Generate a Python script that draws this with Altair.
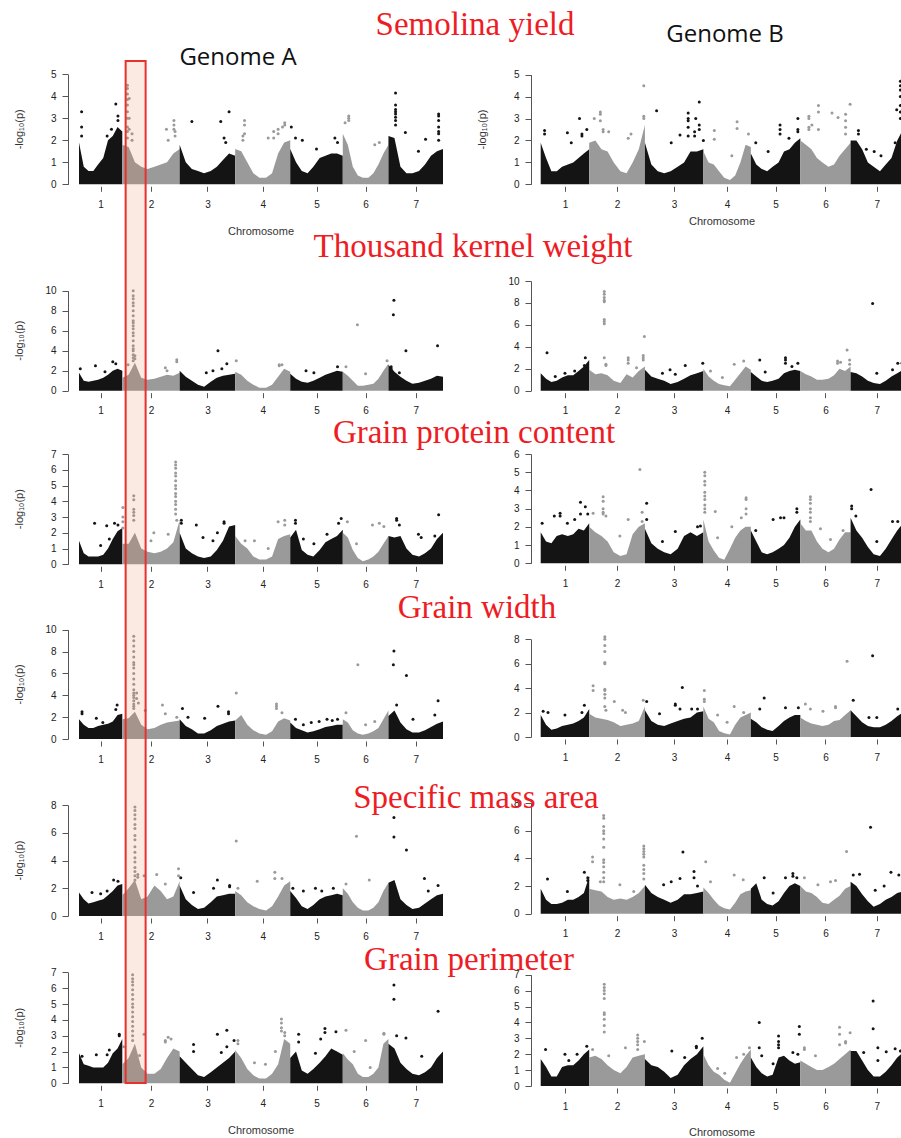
import altair as alt
import pandas as pd

W, H = 901, 1138

CHROMS = [1, 2, 3, 4, 5, 6, 7]
LEN_A = [585, 775, 750, 744, 710, 617, 737]   # chromosome lengths (Mb), genome A
LEN_B = [689, 791, 830, 674, 703, 714, 744]   # chromosome lengths (Mb), genome B
FRAC = [0.0, 0.11, 0.22, 0.33, 0.44, 0.56, 0.67, 0.78, 0.89, 1.0]  # sampling positions along each chromosome

TRAITS = ["Semolina yield", "Thousand kernel weight", "Grain protein content",
          "Grain width", "Specific mass area", "Grain perimeter"]
HIGHLIGHT = {"chrom": 2, "start": 45, "end": 315}   # highlighted region on chr 2A (Mb)

# ---------- upper edge of the dense SNP cloud, per chromosome ----------
ENV_SY_A = [[1.9, 0.8, 0.6, 0.6, 0.9, 1.2, 2.0, 2.2, 2.6, 2.4],
            [1.8, 1.7, 1.0, 0.8, 0.7, 0.8, 0.9, 1.0, 1.4, 1.6],
            [1.8, 1.0, 0.7, 0.6, 0.5, 0.6, 0.8, 1.1, 1.4, 1.3],
            [1.6, 1.5, 1.0, 0.5, 0.3, 0.3, 0.5, 1.4, 1.9, 2.0],
            [1.6, 1.0, 0.6, 0.5, 0.8, 1.2, 1.3, 1.4, 1.4, 1.3],
            [2.3, 1.8, 0.8, 0.4, 0.3, 0.3, 0.5, 0.9, 1.4, 1.8],
            [2.2, 2.1, 0.8, 0.5, 0.5, 0.6, 0.9, 1.3, 1.5, 1.6]]
ENV_SY_B = [[1.9, 1.2, 0.6, 0.6, 0.8, 0.9, 1.0, 1.2, 1.4, 1.6],
            [1.9, 2.0, 1.6, 1.5, 1.0, 0.6, 0.5, 1.0, 1.6, 2.7],
            [1.9, 0.9, 0.6, 0.5, 0.6, 0.8, 1.0, 1.5, 1.5, 1.6],
            [1.5, 1.0, 0.9, 0.6, 0.3, 0.2, 0.4, 1.0, 1.8, 1.7],
            [1.4, 0.9, 0.7, 0.6, 0.8, 1.0, 1.5, 1.6, 1.9, 2.1],
            [2.0, 1.8, 1.6, 1.2, 1.0, 0.8, 0.9, 1.3, 1.6, 1.9],
            [2.0, 2.0, 1.6, 1.0, 0.8, 0.6, 0.9, 1.2, 2.0, 2.5]]
ENV_TKW_A = [[1.8, 1.0, 0.9, 1.0, 1.1, 1.3, 1.6, 2.0, 2.2, 2.0],
             [1.3, 1.6, 2.8, 1.3, 1.1, 1.2, 1.4, 1.6, 1.5, 1.8],
             [2.0, 1.4, 1.0, 0.6, 0.4, 0.9, 1.3, 1.5, 1.6, 1.7],
             [1.9, 1.6, 1.0, 0.6, 0.3, 0.3, 0.6, 1.4, 2.2, 1.9],
             [1.7, 1.2, 0.9, 0.8, 1.0, 1.3, 1.6, 1.8, 2.0, 1.9],
             [1.9, 1.5, 1.0, 0.5, 0.5, 0.6, 0.7, 1.2, 2.0, 2.7],
             [2.6, 1.9, 1.4, 1.0, 0.7, 0.8, 1.0, 1.2, 1.5, 1.4]]
ENV_TKW_B = [[1.6, 1.1, 0.8, 0.9, 1.2, 1.4, 1.4, 1.8, 2.2, 2.8],
             [1.9, 1.5, 1.6, 1.4, 0.9, 0.7, 1.5, 1.2, 1.8, 2.2],
             [1.9, 1.3, 1.1, 0.9, 0.6, 0.8, 1.1, 1.4, 1.6, 1.8],
             [2.0, 1.3, 0.9, 0.6, 0.5, 0.4, 1.0, 1.6, 2.2, 1.9],
             [1.7, 1.3, 0.9, 0.8, 0.9, 1.1, 1.6, 1.8, 1.9, 1.8],
             [1.8, 1.5, 1.3, 1.0, 1.0, 1.1, 1.4, 2.0, 1.8, 2.2],
             [1.7, 1.6, 1.3, 0.9, 0.7, 0.6, 0.9, 1.3, 1.6, 1.9]]
ENV_GPC_A = [[1.5, 0.7, 0.5, 0.5, 0.5, 0.6, 1.0, 1.6, 2.1, 2.3],
             [1.3, 1.3, 2.0, 1.0, 0.8, 0.7, 0.8, 1.0, 1.4, 2.8],
             [2.0, 1.0, 0.7, 0.5, 0.4, 0.5, 0.9, 1.5, 2.4, 2.5],
             [1.8, 1.3, 1.0, 0.5, 0.3, 0.3, 0.5, 1.6, 1.8, 1.9],
             [1.7, 2.2, 0.9, 0.6, 0.5, 0.9, 1.4, 1.6, 1.8, 2.2],
             [2.0, 1.7, 0.9, 0.4, 0.2, 0.3, 0.5, 0.8, 1.3, 1.8],
             [1.8, 1.7, 1.8, 1.0, 0.6, 0.5, 0.7, 1.0, 1.6, 2.0]]
ENV_GPC_B = [[1.7, 1.2, 1.1, 1.5, 1.6, 1.5, 1.6, 1.9, 1.8, 2.2],
             [2.0, 1.7, 1.5, 1.2, 0.6, 0.4, 0.5, 1.6, 2.0, 2.2],
             [1.9, 1.1, 0.8, 0.6, 0.5, 0.8, 1.5, 1.7, 1.5, 1.7],
             [2.4, 1.2, 0.7, 0.3, 0.2, 0.8, 1.4, 1.8, 2.0, 2.0],
             [1.8, 1.2, 0.6, 0.5, 0.6, 0.8, 1.0, 1.4, 2.0, 2.4],
             [2.2, 1.8, 1.8, 1.2, 0.8, 0.6, 0.8, 1.3, 1.7, 1.7],
             [2.5, 1.8, 1.4, 0.9, 0.5, 0.4, 0.8, 1.3, 1.8, 2.2]]
ENV_GW_A = [[1.8, 1.3, 1.0, 1.0, 1.2, 1.3, 1.4, 1.6, 2.2, 2.3],
            [1.8, 1.9, 2.5, 1.3, 0.9, 1.0, 1.3, 1.5, 1.6, 1.7],
            [1.8, 1.2, 0.9, 0.5, 0.5, 0.8, 1.2, 1.4, 1.6, 1.7],
            [1.7, 2.2, 1.3, 0.8, 0.5, 0.4, 0.7, 1.6, 1.9, 1.7],
            [1.5, 1.0, 0.8, 0.6, 0.7, 0.9, 1.1, 1.2, 1.3, 1.3],
            [1.8, 1.5, 0.8, 0.5, 0.4, 0.5, 0.7, 1.0, 1.8, 2.6],
            [2.1, 2.6, 1.5, 0.9, 0.6, 0.6, 0.8, 1.1, 1.4, 1.6]]
ENV_GW_B = [[1.8, 1.0, 0.6, 0.7, 0.9, 1.0, 1.1, 1.3, 1.6, 2.3],
            [1.9, 1.6, 1.5, 1.4, 1.2, 0.9, 1.0, 1.1, 1.3, 2.5],
            [2.2, 1.3, 1.0, 0.9, 1.1, 1.3, 1.5, 1.6, 2.0, 2.1],
            [2.5, 1.5, 1.2, 0.5, 0.3, 0.2, 1.0, 1.6, 1.8, 2.0],
            [1.5, 1.2, 0.8, 0.6, 0.5, 0.9, 1.3, 1.6, 1.8, 1.8],
            [1.6, 1.3, 1.1, 1.0, 0.9, 1.0, 1.3, 1.4, 1.8, 2.2],
            [2.2, 1.7, 1.2, 0.9, 0.8, 0.8, 1.0, 1.3, 1.7, 2.0]]
ENV_SMA_A = [[1.7, 1.2, 0.9, 1.0, 1.1, 1.2, 1.5, 1.8, 2.2, 2.3],
             [1.5, 2.0, 2.6, 1.2, 1.4, 2.2, 1.8, 1.2, 1.4, 2.5],
             [2.2, 1.2, 0.8, 0.5, 0.6, 1.0, 1.4, 1.5, 1.6, 1.6],
             [1.8, 1.5, 1.0, 0.7, 0.5, 0.4, 0.7, 1.4, 2.2, 2.5],
             [1.8, 1.3, 0.7, 0.5, 0.8, 1.2, 1.4, 1.5, 1.6, 1.5],
             [2.0, 1.6, 1.0, 0.6, 0.4, 0.4, 0.6, 1.0, 1.8, 2.4],
             [2.4, 2.6, 1.2, 0.8, 0.5, 0.6, 0.9, 1.2, 1.5, 1.6]]
ENV_SMA_B = [[1.8, 1.0, 0.7, 0.7, 0.8, 1.0, 1.0, 1.2, 1.5, 2.7],
             [1.8, 1.7, 1.6, 1.2, 1.0, 1.1, 1.0, 1.2, 1.5, 2.0],
             [2.1, 1.5, 1.2, 1.0, 0.8, 1.0, 1.4, 1.4, 1.5, 1.6],
             [1.9, 1.5, 1.0, 0.6, 0.4, 0.3, 0.8, 1.4, 1.6, 1.7],
             [1.8, 2.2, 1.0, 0.7, 0.6, 0.9, 1.5, 2.0, 2.2, 2.0],
             [2.0, 1.6, 1.5, 1.2, 0.8, 0.7, 1.0, 1.3, 1.8, 2.0],
             [2.3, 2.0, 1.4, 0.9, 0.5, 0.7, 1.0, 1.2, 1.5, 1.6]]
ENV_GP_A = [[1.9, 1.2, 1.1, 1.0, 1.0, 1.0, 1.3, 1.9, 2.2, 2.8],
            [1.2, 1.6, 2.5, 1.0, 0.6, 0.6, 0.9, 1.6, 2.2, 2.0],
            [1.7, 1.3, 0.9, 0.5, 0.4, 0.7, 1.0, 1.3, 1.6, 2.0],
            [2.1, 1.6, 0.9, 0.5, 0.3, 0.3, 0.6, 1.2, 2.8, 2.5],
            [1.6, 2.0, 0.8, 0.6, 0.9, 1.3, 1.7, 2.2, 2.0, 1.8],
            [1.9, 1.5, 1.2, 0.6, 0.4, 0.4, 0.6, 1.0, 2.5, 2.8],
            [2.5, 2.2, 1.3, 0.9, 0.6, 0.5, 0.7, 1.0, 1.6, 2.0]]
ENV_GP_B = [[1.7, 1.2, 0.6, 0.6, 1.2, 1.3, 1.3, 1.6, 2.0, 2.3],
            [1.8, 1.9, 1.7, 1.3, 1.0, 0.8, 1.2, 1.8, 1.9, 2.0],
            [1.7, 1.3, 1.2, 0.9, 0.5, 0.7, 1.3, 1.7, 2.0, 2.5],
            [2.0, 1.3, 0.9, 0.7, 0.4, 0.2, 0.8, 1.4, 1.9, 2.3],
            [1.8, 1.2, 0.8, 0.6, 0.7, 1.8, 1.9, 1.6, 1.4, 1.5],
            [1.6, 1.4, 1.2, 1.0, 1.0, 1.2, 1.4, 1.7, 2.0, 2.3],
            [2.2, 2.2, 1.6, 1.0, 0.6, 0.6, 0.9, 1.3, 1.8, 2.1]]

# ---------- individual SNPs above the cloud: (chromosome, fraction along it, -log10 p values) ----------
PTS_SY_A = [(1, 0.06, [3.3, 2.6, 2.2]), (1, 0.65, [2.2]), (1, 0.75, [2.5]), (1, 0.85, [3.65]), (1, 0.9, [3.1, 2.9]),
            (2, 0.09, [4.5, 4.35, 4.1, 3.85, 3.6, 3.3, 3.0, 2.6, 2.4, 2.1]), (2, 0.12, [3.9, 3.0, 2.5]),
            (2, 0.17, [2.3, 2.0]), (2, 0.77, [2.5]), (2, 0.8, [2.0]), (2, 0.9, [2.9, 2.7, 2.5]), (2, 0.92, [2.4, 2.2]),
            (3, 0.22, [2.85]), (3, 0.74, [2.85]), (3, 0.8, [2.1]), (3, 0.83, [1.9]), (3, 0.89, [3.3]),
            (4, 0.14, [2.2, 2.0]), (4, 0.17, [2.9, 2.7, 2.3]), (4, 0.6, [2.1]), (4, 0.7, [2.4, 2.1]),
            (4, 0.78, [2.5, 2.3]), (4, 0.86, [2.6]), (4, 0.9, [2.8, 2.7]),
            (5, 0.02, [2.6]), (5, 0.1, [2.1]), (5, 0.23, [2.0]), (5, 0.5, [1.6]), (5, 0.85, [2.1]), (5, 0.9, [1.9]),
            (6, 0.05, [2.8]), (6, 0.13, [3.1, 3.0, 2.9]), (6, 0.7, [1.8]), (6, 0.8, [1.9]),
            (7, 0.13, [4.15, 3.6, 3.4, 3.3, 3.2, 3.05, 2.9, 2.7]), (7, 0.31, [2.35]), (7, 0.55, [1.5]),
            (7, 0.68, [2.05]), (7, 0.92, [3.2, 3.1, 2.9, 2.6, 2.4, 2.3, 2.0])]
PTS_SY_B = [(1, 0.08, [2.45, 2.3]), (1, 0.55, [2.35]), (1, 0.63, [1.9]), (1, 0.8, [3.0]), (1, 0.85, [2.3, 2.2]), (1, 0.95, [2.5]),
            (2, 0.09, [3.0]), (2, 0.2, [3.3, 3.2, 2.9]), (2, 0.25, [2.5, 2.4]), (2, 0.35, [2.4]), (2, 0.7, [2.1]),
            (2, 0.75, [2.3]), (2, 0.98, [4.5, 3.1, 3.0]),
            (3, 0.2, [3.35]), (3, 0.45, [1.9]), (3, 0.6, [2.25]), (3, 0.74, [3.25, 3.0, 2.9, 2.6, 2.2]),
            (3, 0.85, [2.4, 2.2]), (3, 0.87, [3.0]), (3, 0.93, [3.75, 2.7, 2.5]), (3, 1.0, [2.0]),
            (4, 0.23, [2.45, 2.05]), (4, 0.6, [1.3]), (4, 0.71, [2.85, 2.55]), (4, 0.95, [2.3]),
            (5, 0.1, [1.9]), (5, 0.35, [1.5]), (5, 0.59, [2.7, 2.5, 2.3]), (5, 0.77, [2.1]), (5, 0.95, [3.0, 2.5, 2.4]),
            (6, 0.17, [3.1, 3.0, 2.6, 2.5]), (6, 0.23, [2.7]), (6, 0.36, [3.6, 3.3, 2.5]), (6, 0.63, [3.25]),
            (6, 0.75, [3.05]), (6, 0.9, [3.2, 2.9, 2.6, 2.3]), (6, 0.99, [3.65]),
            (7, 0.15, [2.45, 2.3]), (7, 0.3, [1.6]), (7, 0.45, [1.5]), (7, 0.58, [1.3]), (7, 0.85, [1.9]),
            (7, 0.88, [3.4]), (7, 0.95, [4.7, 4.5, 4.3, 4.0, 3.6, 3.3, 3.0])]
PTS_TKW_A = [(1, 0.03, [2.2]), (1, 0.38, [2.5]), (1, 0.6, [1.9]), (1, 0.78, [2.9]), (1, 0.85, [2.7]),
             (2, 0.1, [2.6]), (2, 0.19, [10.0, 9.5, 9.2, 8.8, 8.5, 8.0, 7.5, 7.0, 6.8, 6.5, 6.2, 5.8, 5.5, 5.0,
                                        4.5, 4.2, 4.0, 3.6, 3.3, 3.0]),
             (2, 0.22, [3.5, 3.2]), (2, 0.75, [2.3]), (2, 0.78, [2.0]), (2, 0.95, [3.1, 2.9]),
             (3, 0.48, [1.8]), (3, 0.6, [2.0]), (3, 0.69, [4.0]), (3, 0.76, [2.2]), (3, 0.85, [2.7]),
             (4, 0.02, [3.0]), (4, 0.8, [2.6, 2.5]), (4, 0.85, [2.6]),
             (5, 0.3, [2.0]), (5, 0.45, [1.8]), (5, 0.9, [2.4]),
             (6, 0.07, [2.4]), (6, 0.32, [6.6]), (6, 0.5, [1.7]), (6, 0.97, [3.0]),
             (7, 0.05, [2.4, 2.2]), (7, 0.09, [7.6]), (7, 0.1, [9.05]), (7, 0.2, [1.8]), (7, 0.32, [4.0]), (7, 0.9, [4.5])]
PTS_TKW_B = [(1, 0.13, [3.45]), (1, 0.3, [1.3]), (1, 0.5, [1.6]), (1, 0.7, [1.8]), (1, 0.9, [2.3]), (1, 0.92, [3.0]),
             (2, 0.27, [9.05, 8.8, 8.5, 8.25, 8.1, 6.5, 6.3, 6.1, 3.0]), (2, 0.3, [2.4, 2.3]),
             (2, 0.7, [3.0, 2.8, 2.5]), (2, 0.85, [2.1]), (2, 0.97, [3.2, 3.0, 2.8]), (2, 0.99, [4.95]),
             (3, 0.3, [1.6]), (3, 0.43, [1.9]), (3, 0.52, [1.5]), (3, 0.69, [2.3]), (3, 0.99, [2.5]),
             (4, 0.15, [1.8]), (4, 0.4, [1.2]), (4, 0.65, [2.4]), (4, 0.85, [2.7]),
             (5, 0.18, [2.8]), (5, 0.29, [1.7]), (5, 0.7, [3.0, 2.8, 2.5]), (5, 0.83, [2.2]), (5, 0.95, [2.5]),
             (6, 0.74, [2.7, 2.5]), (6, 0.8, [2.6]), (6, 0.93, [3.7]), (6, 0.98, [2.8, 2.4]),
             (7, 0.42, [7.95]), (7, 0.5, [1.6]), (7, 0.8, [1.9]), (7, 0.9, [2.5]), (7, 0.98, [2.5])]
PTS_GPC_A = [(1, 0.36, [2.6]), (1, 0.5, [1.2]), (1, 0.64, [2.45]), (1, 0.7, [1.6]), (1, 0.82, [2.6]), (1, 0.9, [2.5]),
             (2, 0.01, [3.6, 3.0, 2.7, 2.3]), (2, 0.2, [4.35, 4.1, 3.5, 3.3, 3.1, 2.8]), (2, 0.5, [1.5]),
             (2, 0.55, [2.0]), (2, 0.8, [1.9]),
             (2, 0.93, [6.5, 6.3, 6.1, 5.8, 5.6, 5.3, 5.0, 4.8, 4.5, 4.3, 4.0, 3.8, 3.5, 3.2]), (2, 0.95, [2.8]),
             (3, 0.03, [2.8, 2.6]), (3, 0.3, [2.5]), (3, 0.42, [1.7]), (3, 0.6, [1.5]), (3, 0.68, [2.0]), (3, 0.8, [2.7, 2.6]),
             (4, 0.18, [1.5]), (4, 0.35, [1.5]), (4, 0.6, [1.0]), (4, 0.78, [2.7]), (4, 0.9, [2.8, 2.5]),
             (5, 0.1, [2.8, 2.6]), (5, 0.25, [1.6]), (5, 0.45, [1.3]), (5, 0.7, [1.9]), (5, 0.92, [2.6]), (5, 0.97, [2.9]),
             (6, 0.1, [2.7]), (6, 0.3, [1.3]), (6, 0.65, [2.5]), (6, 0.8, [2.6]), (6, 0.9, [2.4]),
             (7, 0.15, [2.9, 2.8]), (7, 0.2, [2.5]), (7, 0.55, [1.9]), (7, 0.6, [1.7]), (7, 0.85, [1.8]), (7, 0.92, [3.15])]
PTS_GPC_B = [(1, 0.03, [2.2]), (1, 0.28, [2.6]), (1, 0.4, [2.75, 2.6]), (1, 0.55, [2.2]), (1, 0.7, [2.4]),
             (1, 0.82, [3.35, 2.7]), (1, 0.92, [3.1]), (1, 0.97, [2.7]),
             (2, 0.07, [2.75]), (2, 0.25, [3.65, 3.4, 3.0, 2.8, 2.7]), (2, 0.3, [2.6]), (2, 0.55, [1.5]),
             (2, 0.7, [2.4]), (2, 0.91, [5.15]), (2, 0.95, [2.8, 2.3]),
             (3, 0.03, [3.3, 2.4]), (3, 0.3, [1.2]), (3, 0.52, [1.75]), (3, 0.9, [2.0]), (3, 0.95, [2.05]),
             (4, 0.03, [5.0, 4.8, 4.5, 4.3, 3.9, 3.7, 3.5, 3.2, 3.0, 2.8]), (4, 0.25, [2.85]), (4, 0.3, [1.4]),
             (4, 0.6, [2.0]), (4, 0.8, [2.5]), (4, 0.9, [3.6, 3.5, 3.0, 2.7]),
             (5, 0.1, [1.8]), (5, 0.45, [2.4]), (5, 0.6, [2.5]), (5, 0.67, [2.5]), (5, 0.93, [3.0, 2.8]),
             (6, 0.2, [3.65, 3.5, 3.3, 3.0, 2.8, 2.5, 2.3]), (6, 0.4, [1.9]), (6, 0.6, [1.3]), (6, 0.85, [1.8]),
             (7, 0.02, [3.15, 3.0]), (7, 0.1, [2.6]), (7, 0.39, [4.05]), (7, 0.5, [1.2]), (7, 0.8, [2.3]), (7, 0.9, [2.3])]
PTS_GW_A = [(1, 0.07, [2.5, 2.3]), (1, 0.4, [1.9]), (1, 0.55, [1.5]), (1, 0.85, [2.7]), (1, 0.88, [3.1]),
            (2, 0.2, [9.4, 9.0, 8.5, 8.0, 7.5, 7.0, 6.8, 6.5, 6.0, 5.5, 5.0, 4.5, 4.2, 4.0, 3.8, 3.5, 3.2, 3.0, 2.8]),
            (2, 0.25, [4.2, 3.7]), (2, 0.28, [3.3]), (2, 0.4, [2.6]), (2, 0.7, [3.1]), (2, 0.75, [2.3]), (2, 0.95, [2.0]),
            (3, 0.05, [2.8]), (3, 0.15, [2.0]), (3, 0.45, [1.9]), (3, 0.69, [3.0]), (3, 0.88, [2.5, 2.3]),
            (4, 0.02, [4.2]), (4, 0.75, [3.2, 3.0, 2.8]), (4, 0.85, [2.4]),
            (5, 0.1, [1.8]), (5, 0.25, [1.3]), (5, 0.4, [1.5]), (5, 0.55, [1.6]), (5, 0.7, [1.8]), (5, 0.8, [1.7]), (5, 0.9, [1.8]),
            (6, 0.07, [2.4]), (6, 0.33, [6.8]), (6, 0.5, [1.3]), (6, 0.7, [1.6]),
            (7, 0.09, [6.8]), (7, 0.1, [8.05]), (7, 0.15, [3.1]), (7, 0.33, [5.8]), (7, 0.45, [1.8]),
            (7, 0.85, [2.2]), (7, 0.91, [3.5])]
PTS_GW_B = [(1, 0.05, [2.1]), (1, 0.15, [2.0]), (1, 0.5, [1.8]), (1, 0.85, [2.0]), (1, 0.9, [2.6]),
            (2, 0.07, [4.2, 3.8]), (2, 0.28, [8.2, 8.0, 7.5, 7.0, 6.1, 6.0, 3.9, 3.8, 3.5, 3.2, 2.5]), (2, 0.3, [2.2]),
            (2, 0.45, [2.9]), (2, 0.6, [2.2]), (2, 0.65, [2.0]), (2, 0.97, [3.0]),
            (3, 0.03, [2.9]), (3, 0.25, [1.9]), (3, 0.52, [2.7, 2.6]), (3, 0.6, [2.3]), (3, 0.64, [4.05]),
            (3, 0.8, [2.3]), (3, 0.9, [2.3]),
            (4, 0.02, [3.8, 3.1, 2.9]), (4, 0.3, [1.8]), (4, 0.5, [1.2]), (4, 0.65, [2.5]), (4, 0.85, [2.0]),
            (5, 0.18, [2.3]), (5, 0.27, [3.2]), (5, 0.7, [2.4]), (5, 0.96, [2.4]),
            (6, 0.1, [2.7]), (6, 0.2, [2.3]), (6, 0.45, [2.1]), (6, 0.7, [2.5, 2.4]), (6, 0.93, [6.2]),
            (7, 0.05, [3.0]), (7, 0.35, [1.6]), (7, 0.42, [6.65]), (7, 0.5, [1.6]), (7, 0.9, [2.3]), (7, 1.0, [3.0])]
PTS_SMA_A = [(1, 0.3, [1.7]), (1, 0.5, [1.6]), (1, 0.65, [1.8]), (1, 0.8, [2.6]), (1, 0.9, [2.5]),
             (2, 0.22, [7.85, 7.6, 7.3, 7.0, 6.6, 6.3, 5.8, 5.5, 5.0, 4.6, 4.2, 3.9, 3.5, 3.2, 2.9, 2.6]),
             (2, 0.27, [3.0, 2.8]), (2, 0.38, [2.9]), (2, 0.6, [3.0]), (2, 0.75, [2.3]), (2, 0.98, [3.4, 2.9]),
             (3, 0.02, [2.75]), (3, 0.25, [1.7]), (3, 0.61, [2.0]), (3, 0.68, [2.6]), (3, 0.9, [2.2, 2.1]),
             (4, 0.02, [5.4]), (4, 0.05, [2.0]), (4, 0.4, [2.5]), (4, 0.72, [3.15, 2.7]), (4, 0.85, [2.7]),
             (5, 0.05, [2.0]), (5, 0.25, [1.8]), (5, 0.48, [2.0]), (5, 0.6, [1.8]), (5, 0.82, [2.0]),
             (6, 0.07, [2.3]), (6, 0.3, [5.75]), (6, 0.58, [2.6]),
             (7, 0.1, [7.1, 5.7]), (7, 0.33, [4.75]), (7, 0.66, [2.7]), (7, 0.73, [1.8]), (7, 0.91, [2.2])]
PTS_SMA_B = [(1, 0.14, [2.5]), (1, 0.55, [1.6]), (1, 0.9, [3.0]), (1, 0.97, [2.6, 2.4]),
             (2, 0.06, [4.1, 3.75]), (2, 0.2, [2.3]),
             (2, 0.26, [7.1, 6.9, 6.3, 6.0, 5.8, 5.4, 4.8, 3.9, 3.7, 3.4, 3.0, 2.6, 2.3]), (2, 0.55, [2.1]),
             (2, 0.8, [1.6]), (2, 0.98, [4.9, 4.7, 4.5, 4.3, 4.1, 3.5, 3.2, 2.9, 2.5]),
             (3, 0.32, [2.1]), (3, 0.45, [2.3]), (3, 0.6, [2.55]), (3, 0.65, [4.45]), (3, 0.84, [3.05, 2.6]), (3, 0.9, [2.0]),
             (4, 0.05, [3.75]), (4, 0.15, [2.3]), (4, 0.65, [2.8]), (4, 0.84, [2.45]),
             (5, 0.27, [2.6]), (5, 0.45, [1.5]), (5, 0.7, [2.6]), (5, 0.85, [2.9, 2.7]), (5, 0.93, [2.6]),
             (6, 0.08, [2.6]), (6, 0.35, [2.1]), (6, 0.6, [2.3]), (6, 0.7, [2.4]), (6, 0.92, [4.5]),
             (7, 0.05, [2.8]), (7, 0.17, [2.85]), (7, 0.38, [6.25]), (7, 0.47, [1.7]), (7, 0.64, [2.0]),
             (7, 0.77, [3.0]), (7, 0.92, [2.8])]
PTS_GP_A = [(1, 0.07, [1.7]), (1, 0.4, [1.8]), (1, 0.65, [1.8]), (1, 0.7, [2.1]), (1, 0.93, [3.1, 3.0]),
            (2, 0.02, [2.3]),
            (2, 0.18, [6.85, 6.6, 6.4, 6.2, 5.9, 5.6, 5.3, 5.0, 4.8, 4.5, 4.2, 3.9, 3.6, 3.3, 3.0, 2.7]),
            (2, 0.3, [1.75]), (2, 0.38, [3.1]), (2, 0.75, [2.6, 2.7]), (2, 0.8, [2.9]), (2, 0.85, [2.8]),
            (3, 0.25, [2.45, 2.0]), (3, 0.68, [3.1]), (3, 0.75, [1.95]), (3, 0.85, [3.35, 2.3]), (3, 0.98, [2.7]),
            (4, 0.05, [2.7, 2.5]), (4, 0.35, [1.3]), (4, 0.55, [1.2]), (4, 0.73, [2.0]),
            (4, 0.84, [4.05, 3.8, 3.5, 3.3]), (4, 0.9, [3.2, 3.0]),
            (5, 0.16, [3.1, 2.6]), (5, 0.48, [1.9]), (5, 0.58, [2.8]), (5, 0.66, [3.45, 3.2]), (5, 0.87, [3.25]),
            (6, 0.07, [3.35]), (6, 0.25, [2.0]), (6, 0.5, [2.7]), (6, 0.6, [1.0]), (6, 0.9, [3.15, 3.1]),
            (7, 0.1, [6.2, 5.3]), (7, 0.15, [3.0]), (7, 0.32, [2.85]), (7, 0.61, [1.7]), (7, 0.91, [4.55])]
PTS_GP_B = [(1, 0.1, [2.3]), (1, 0.5, [2.0]), (1, 0.58, [1.6]), (1, 0.75, [2.0]), (1, 0.95, [2.5]),
            (2, 0.06, [2.3]), (2, 0.27, [6.4, 6.2, 6.0, 5.8, 5.5, 4.6, 4.5, 4.2, 3.8, 3.4]), (2, 0.35, [1.9]),
            (2, 0.65, [2.4]), (2, 0.87, [3.2, 3.0, 2.8, 2.6, 2.3]), (2, 0.99, [2.8]),
            (3, 0.46, [2.2]), (3, 0.68, [1.8]), (3, 0.88, [2.5, 2.4]), (3, 0.98, [3.0]),
            (4, 0.1, [1.2]), (4, 0.3, [1.1]), (4, 0.45, [0.8]), (4, 0.7, [1.8]), (4, 0.85, [2.0]), (4, 0.97, [2.4]),
            (5, 0.17, [4.0, 2.4]), (5, 0.22, [1.9]), (5, 0.45, [1.4]), (5, 0.56, [3.15, 2.8, 2.6, 2.4]),
            (5, 0.85, [2.1]), (5, 0.95, [2.0]), (5, 0.98, [3.75, 3.25]),
            (6, 0.08, [2.4, 2.3]), (6, 0.3, [1.9]), (6, 0.78, [3.7, 3.25, 2.6]), (6, 0.9, [2.8, 2.7]), (6, 0.99, [3.35]),
            (7, 0.25, [2.1]), (7, 0.43, [5.35, 3.6]), (7, 0.52, [2.4, 1.6]), (7, 0.68, [2.15]),
            (7, 0.85, [2.35]), (7, 0.95, [2.2])]

Y_MAX_A = [5, 10, 7, 10, 8, 7]
Y_MAX_B = [5, 10, 6, 8, 8, 7]
Y_STEP_A = [1, 2, 1, 2, 2, 1]
Y_STEP_B = [1, 2, 1, 2, 2, 1]

ENV_A = [ENV_SY_A, ENV_TKW_A, ENV_GPC_A, ENV_GW_A, ENV_SMA_A, ENV_GP_A]
ENV_B = [ENV_SY_B, ENV_TKW_B, ENV_GPC_B, ENV_GW_B, ENV_SMA_B, ENV_GP_B]
PTS_A = [PTS_SY_A, PTS_TKW_A, PTS_GPC_A, PTS_GW_A, PTS_SMA_A, PTS_GP_A]
PTS_B = [PTS_SY_B, PTS_TKW_B, PTS_GPC_B, PTS_GW_B, PTS_SMA_B, PTS_GP_B]

# ---------- layout (pixels) ----------
COL = {"A": dict(x0=79, x1=443, axis_x=68),
       "B": dict(x0=540.7, x1=903, axis_x=531)}
ROW_PX = {"A": [(184.3, 74.3), (390.7, 290.7), (564.3, 454), (739, 629.7), (916, 805), (1083.3, 972.3)],
          "B": [(184.3, 74.7), (390.7, 281), (563.3, 454), (737, 639.3), (913.7, 803), (1086, 974.7)]}

DARK, LIGHT = "#141414", "#9a9a9a"
AX = "#555555"
LABEL_FONT = "Liberation Sans"
color_scale = alt.Scale(domain=["dark", "light"], range=[DARK, LIGHT])


def offsets(lengths):
    offs = [0]
    for l in lengths[:-1]:
        offs.append(offs[-1] + l)
    return offs


def frames(env, pts, lengths):
    offs = offsets(lengths)
    e_rows, p_rows = [], []
    for c, vals in zip(CHROMS, env):
        for f, v in zip(FRAC, vals):
            e_rows.append(dict(chrom=c, pos=offs[c - 1] + f * lengths[c - 1], val=v,
                               shade="dark" if c % 2 else "light"))
    for c, f, vals in pts:
        for v in vals:
            p_rows.append(dict(chrom=c, pos=offs[c - 1] + f * lengths[c - 1], val=v,
                               shade="dark" if c % 2 else "light"))
    return pd.DataFrame(e_rows), pd.DataFrame(p_rows)


def x_scale(genome):
    lengths = LEN_A if genome == "A" else LEN_B
    c = COL[genome]
    return alt.Scale(domain=[0, sum(lengths)], range=[c["x0"], c["x1"]], nice=False, zero=False)


def panel(genome, row):
    lengths = LEN_A if genome == "A" else LEN_B
    env = (ENV_A if genome == "A" else ENV_B)[row]
    pts = (PTS_A if genome == "A" else PTS_B)[row]
    ymax = (Y_MAX_A if genome == "A" else Y_MAX_B)[row]
    ystep = (Y_STEP_A if genome == "A" else Y_STEP_B)[row]
    ybot, ytop = ROW_PX[genome][row]
    e_df, p_df = frames(env, pts, lengths)
    offs = offsets(lengths)
    centers = [o + l / 2 for o, l in zip(offs, lengths)]
    ends = [o + l for o, l in zip(offs, lengths)]
    expr = "".join(f"datum.value < {ends[i]} ? '{CHROMS[i]}' : " for i in range(6)) + f"'{CHROMS[6]}'"

    xs = x_scale(genome)
    ys = alt.Scale(domain=[0, ymax], range=[ybot, ytop], nice=False, zero=False)
    x_axis = alt.Axis(orient="bottom", offset=(ybot + 2) - H, values=centers, labelExpr=expr,
                      domain=False, grid=False, tickSize=5, tickColor=AX, tickWidth=1,
                      labelFont=LABEL_FONT, labelFontSize=10, labelColor="#222",
                      labelPadding=8, labelFlush=False, labelOverlap=False, title=None)
    y_axis = alt.Axis(orient="left", offset=-COL[genome]["axis_x"],
                      values=list(range(0, ymax + 1, ystep)), format="d",
                      grid=False, domain=True, domainColor=AX, domainWidth=1,
                      tickSize=6, tickColor=AX, tickWidth=1,
                      labelFont=LABEL_FONT, labelFontSize=10, labelColor="#222",
                      labelPadding=6, labelFlush=False, labelOverlap=False, title=None)

    area = alt.Chart(e_df).mark_area(interpolate="linear").encode(
        x=alt.X("pos:Q", scale=xs, axis=x_axis),
        y=alt.Y("val:Q", scale=ys, axis=y_axis, stack=None),
        detail="chrom:N",
        color=alt.Color("shade:N", scale=color_scale, legend=None),
    )
    dots = alt.Chart(p_df).mark_circle(size=9, opacity=1).encode(
        x=alt.X("pos:Q", scale=xs, axis=None),
        y=alt.Y("val:Q", scale=ys, axis=None),
        color=alt.Color("shade:N", scale=color_scale, legend=None),
    )
    return [area, dots]


def text(label, x, y, size, font, color, angle=0, baseline="alphabetic"):
    return alt.Chart(pd.DataFrame({"t": [label]})).mark_text(
        font=font, fontSize=size, color=color, angle=angle, baseline=baseline, align="center"
    ).encode(text="t:N", x=alt.value(x), y=alt.value(y))


layers = []
for r in range(6):
    layers += panel("A", r)
    layers += panel("B", r)

# highlighted region on chromosome 2A
offA = offsets(LEN_A)
hl = pd.DataFrame({"start": [offA[HIGHLIGHT["chrom"] - 1] + HIGHLIGHT["start"]],
                   "end": [offA[HIGHLIGHT["chrom"] - 1] + HIGHLIGHT["end"]]})
layers.append(alt.Chart(hl).mark_rect(fill="#e0703a", fillOpacity=0.15, stroke="#e8302c",
                                      strokeWidth=2).encode(
    x=alt.X("start:Q", scale=x_scale("A"), axis=None), x2="end:Q",
    y=alt.value(61), y2=alt.value(1083)))

# trait titles
TITLE_POS = [(475, 35), (473, 257), (474, 443), (477, 618), (476, 808), (469, 970)]
for t, (tx, ty) in zip(TRAITS, TITLE_POS):
    layers.append(text(t, tx, ty, 33, "Liberation Serif", "#ee1c24"))

layers.append(text("Genome A", 238, 65, 24, "Open Sans", "#111"))
layers.append(text("Genome B", 725, 42, 24, "Open Sans", "#111"))

YLAB = "-log\u2081\u2080(p)"
for r in range(6):
    yb, yt = ROW_PX["A"][r]
    layers.append(text(YLAB, 20, (yb + yt) / 2, 11, LABEL_FONT, "#333", angle=270, baseline="middle"))
yb, yt = ROW_PX["B"][0]
layers.append(text(YLAB, 483, (yb + yt) / 2, 11, LABEL_FONT, "#333", angle=270, baseline="middle"))

for (cx, cy) in [(261, 232), (722, 222), (261, 1131), (722, 1133)]:
    layers.append(text("Chromosome", cx, cy, 11, LABEL_FONT, "#333", baseline="middle"))

chart = alt.layer(*layers).resolve_scale(x="independent", y="independent").properties(
    width=W, height=H, padding=0, background="white",
    autosize=alt.AutoSizeParams(type="none"),
).configure_view(stroke=None)

chart.save("out.html", embed_options={"renderer": "svg", "actions": False})
